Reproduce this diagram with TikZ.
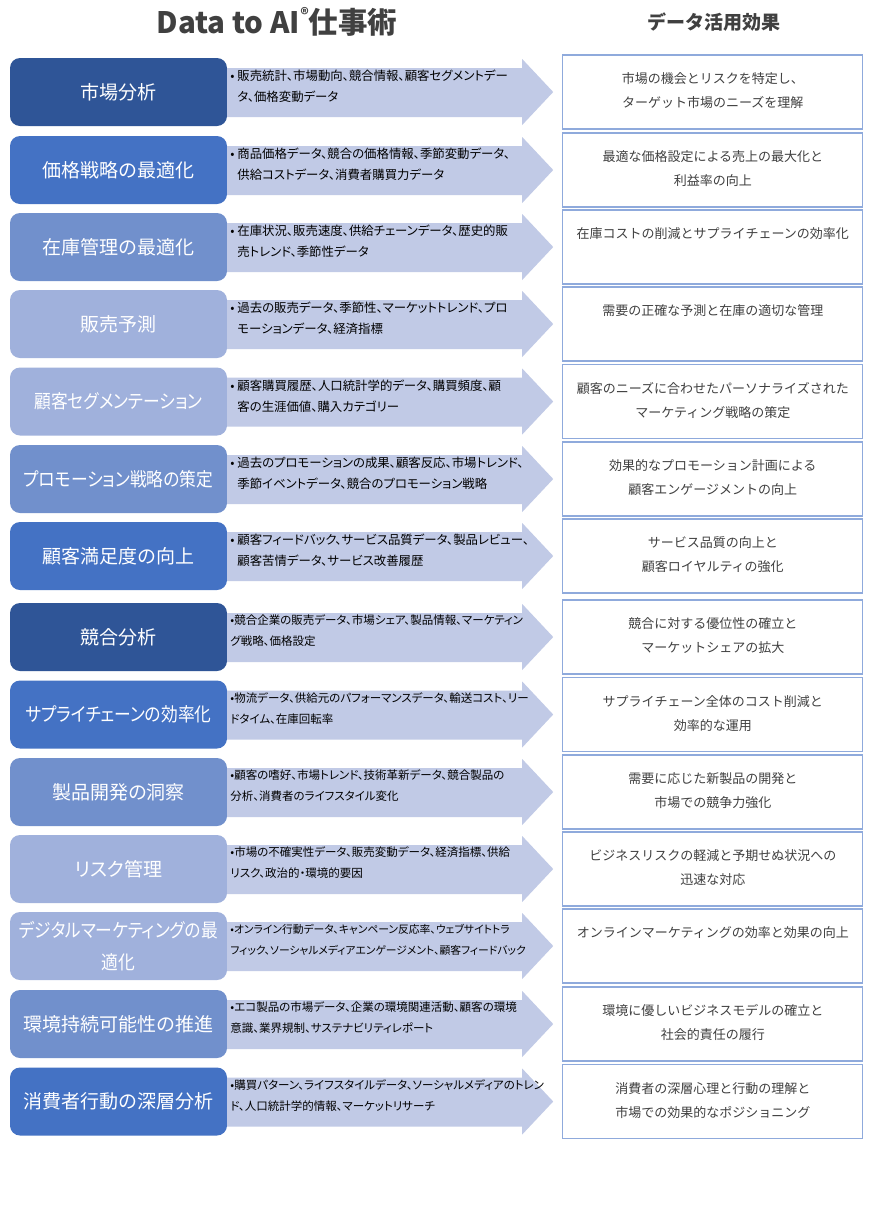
\documentclass[tikz,border=0pt]{standalone}
\usepackage{fontspec}
\setmainfont{Noto Sans CJK JP}
\newfontfamily\palfont[RawFeature=+palt]{Noto Sans CJK JP}
\newfontfamily\tightfont[RawFeature=+palt,FakeStretch=0.88]{Noto Sans CJK JP}
\usetikzlibrary{positioning}
\definecolor{navy}{HTML}{2F5597}
\definecolor{royal}{HTML}{4472C4}
\definecolor{steel}{HTML}{7190CC}
\definecolor{pale}{HTML}{A0B1DC}
\definecolor{flow}{RGB}{193,202,230}
\definecolor{rim}{RGB}{143,170,220}
\definecolor{ink}{RGB}{64,64,64}
\tikzset{
  lbox/.style={rounded corners=10pt,minimum width=217pt,minimum height=68pt,inner sep=0pt,
    text width=205pt,align=center,text=white,font=\palfont\fontsize{19}{32}\selectfont},
  lboxt/.style={lbox,font=\tightfont\fontsize{19}{32}\selectfont},
  goal/.style={draw=rim,line width=1.2pt,fill=white,minimum width=300pt,minimum height=74pt,inner sep=0pt},
  gtext/.style={inner sep=0pt,align=center,text=ink,font=\fontsize{13}{24}\selectfont},
  src/.style={inner sep=0pt,align=left,text=black,font=\palfont\fontsize{12.4}{21}\selectfont},
  srcs/.style={src,font=\palfont\fontsize{11.5}{21}\selectfont},
  flowfill/.style={fill=flow}
}
\begin{document}
\begin{tikzpicture}[x=1pt,y=-1pt]
\useasboundingbox[fill=white] (0,0) rectangle (871,1213);
\node[text=ink,font=\bfseries\fontsize{29.5}{32}\selectfont] (ttl) at (277,22) {Data to AI\raisebox{0.45em}{\fontsize{16}{16}\selectfont ®}仕事術};
\node[text=ink,font=\bfseries\fontsize{19}{22}\selectfont] (eff) at (714,22) {データ活用効果};
% left boxes
\node[lbox,fill=navy]   (l1)  at (118.5,92)    {市場分析};
\node[lbox,fill=royal]  (l2)  at (118.5,170)   {価格戦略の最適化};
\node[lbox,fill=steel]  (l3)  at (118.5,247)   {在庫管理の最適化};
\node[lbox,fill=pale]   (l4)  at (118.5,324)   {販売予測};
\node[lboxt,fill=pale]  (l5)  at (118.5,401.5) {顧客セグメンテーション};
\node[lboxt,fill=steel] (l6)  at (118.5,479)   {プロモーション戦略の策定};
\node[lbox,fill=royal]  (l7)  at (118.5,556)   {顧客満足度の向上};
\node[lbox,fill=navy]   (l8)  at (118.5,637)   {競合分析};
\node[lboxt,fill=royal] (l9)  at (118.5,714.5) {サプライチェーンの効率化};
\node[lbox,fill=steel]  (l10) at (118.5,792)   {製品開発の洞察};
\node[lbox,fill=pale]   (l11) at (118.5,869)   {リスク管理};
\node[lboxt,fill=pale]  (l12) at (118.5,946)   {デジタルマーケティングの最\\適化};
\node[lbox,fill=steel]  (l13) at (118.5,1024)  {環境持続可能性の推進};
\node[lbox,fill=royal]  (l14) at (118.5,1101.5){消費者行動の深層分析};
% arrows
\foreach \i in {1,...,14}
  \fill[flowfill] (l\i.east) ++(0,-24) -- ++(295,0) -- ++(0,-9) -- ++(31,33) -- ++(-31,33) -- ++(0,-8) -- ++(-295,0) -- cycle;
% data
\node[src,below right=12pt and 3pt of l1.north east]  (s1)  {• 販売統計、市場動向、競合情報、顧客セグメントデー\\\phantom{• }タ、価格変動データ};
\node[src,below right=12pt and 3pt of l2.north east]  (s2)  {• 商品価格データ、競合の価格情報、季節変動データ、\\\phantom{• }供給コストデータ、消費者購買力データ};
\node[src,below right=12pt and 3pt of l3.north east]  (s3)  {• 在庫状況、販売速度、供給チェーンデータ、歴史的販\\\phantom{• }売トレンド、季節性データ};
\node[src,below right=12pt and 3pt of l4.north east]  (s4)  {• 過去の販売データ、季節性、マーケットトレンド、プロ\\\phantom{• }モーションデータ、経済指標};
\node[src,below right=12pt and 3pt of l5.north east]  (s5)  {• 顧客購買履歴、人口統計学的データ、購買頻度、顧\\\phantom{• }客の生涯価値、購入カテゴリー};
\node[src,below right=12pt and 3pt of l6.north east]  (s6)  {• 過去のプロモーションの成果、顧客反応、市場トレンド、\\\phantom{• }季節イベントデータ、競合のプロモーション戦略};
\node[src,below right=12pt and 3pt of l7.north east]  (s7)  {• 顧客フィードバック、サービス品質データ、製品レビュー、\\\phantom{• }顧客苦情データ、サービス改善履歴};
\node[srcs,below right=12pt and 3pt of l8.north east] (s8)  {•競合企業の販売データ、市場シェア、製品情報、マーケティン\\グ戦略、価格設定};
\node[srcs,below right=12pt and 3pt of l9.north east] (s9)  {•物流データ、供給元のパフォーマンスデータ、輸送コスト、リー\\ドタイム、在庫回転率};
\node[srcs,below right=12pt and 3pt of l10.north east] (s10) {•顧客の嗜好、市場トレンド、技術革新データ、競合製品の\\分析、消費者のライフスタイル変化};
\node[srcs,below right=12pt and 3pt of l11.north east] (s11) {•市場の不確実性データ、販売変動データ、経済指標、供給\\リスク、政治的・環境的要因};
\node[srcs,font=\palfont\fontsize{10.8}{21}\selectfont,below right=12pt and 3pt of l12.north east] (s12) {•オンライン行動データ、キャンペーン反応率、ウェブサイトトラ\\フィック、ソーシャルメディアエンゲージメント、顧客フィードバック};
\node[srcs,below right=12pt and 3pt of l13.north east] (s13) {•エコ製品の市場データ、企業の環境関連活動、顧客の環境\\意識、業界規制、サステナビリティレポート};
\node[srcs,below right=12pt and 3pt of l14.north east] (s14) {•購買パターン、ライフスタイルデータ、ソーシャルメディアのトレン\\ド、人口統計学的情報、マーケットリサーチ};
% effects
\foreach \i in {1,...,14}
  \node[goal,right=335pt of l\i] (g\i) {};
\node[gtext,below=18pt of g1.north]  (e1)  {市場の機会とリスクを特定し、\\ターゲット市場のニーズを理解};
\node[gtext,below=18pt of g2.north]  (e2)  {最適な価格設定による売上の最大化と\\利益率の向上};
\node[gtext,below=18pt of g3.north]  (e3)  {在庫コストの削減とサプライチェーンの効率化};
\node[gtext,below=18pt of g4.north]  (e4)  {需要の正確な予測と在庫の適切な管理};
\node[gtext,below=18pt of g5.north]  (e5)  {顧客のニーズに合わせたパーソナライズされた\\マーケティング戦略の策定};
\node[gtext,below=18pt of g6.north]  (e6)  {効果的なプロモーション計画による\\顧客エンゲージメントの向上};
\node[gtext,below=18pt of g7.north]  (e7)  {サービス品質の向上と\\顧客ロイヤルティの強化};
\node[gtext,below=18pt of g8.north]  (e8)  {競合に対する優位性の確立と\\マーケットシェアの拡大};
\node[gtext,below=18pt of g9.north]  (e9)  {サプライチェーン全体のコスト削減と\\効率的な運用};
\node[gtext,below=18pt of g10.north] (e10) {需要に応じた新製品の開発と\\市場での競争力強化};
\node[gtext,below=18pt of g11.north] (e11) {ビジネスリスクの軽減と予期せぬ状況への\\迅速な対応};
\node[gtext,below=18pt of g12.north] (e12) {オンラインマーケティングの効率と効果の向上};
\node[gtext,below=18pt of g13.north] (e13) {環境に優しいビジネスモデルの確立と\\社会的責任の履行};
\node[gtext,below=18pt of g14.north] (e14) {消費者の深層心理と行動の理解と\\市場での効果的なポジショニング};
\end{tikzpicture}
\end{document}
